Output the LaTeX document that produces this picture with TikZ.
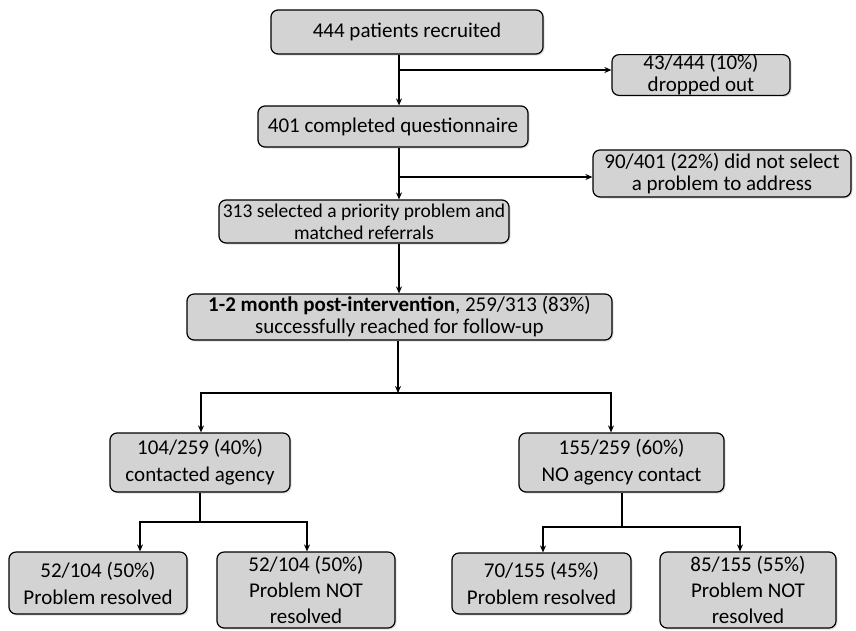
\documentclass[tikz,border=0pt]{standalone}
\usepackage{fontspec}
\setmainfont{Carlito}
\usetikzlibrary{arrows.meta,shadows}
\definecolor{boxgray}{RGB}{211,211,211}
\tikzset{
  flowbox/.style={
    draw = black,
    line width = 1.2pt,
    fill = boxgray,
    rounded corners = 7pt,
    align = center,
    inner sep = 0pt,
    font = \fontsize{21}{22}\selectfont,
    drop shadow = {opacity=0.25, shadow xshift=1.5pt, shadow yshift=-1.5pt}
  },
  loosebox/.style={flowbox, font = \fontsize{21}{27}\selectfont},
  tallbox/.style={flowbox, font = \fontsize{21}{26}\selectfont},
  flowline/.style={line width = 1.2pt},
  flowarrow/.style={line width = 1.2pt, -{Stealth[length=7pt,width=6pt]}}
}
\begin{document}
\begin{tikzpicture}[x=1pt,y=-1pt]
            \useasboundingbox (0,0) rectangle (856,630);
            % boxes
            \node[flowbox, minimum width=272pt, minimum height=44pt] (recruited) at (407,32) {444 patients recruited};
            \node[flowbox, minimum width=178pt, minimum height=40pt] (dropped) at (701,75) {43/444 (10\%)\\dropped out};
            \node[flowbox, minimum width=270pt, minimum height=41pt] (completed) at (393,126.5) {401 completed questionnaire};
            \node[flowbox, minimum width=258pt, minimum height=47pt] (noselect) at (722,173.5) {90/401 (22\%) did not select\\a problem to address};
            \node[flowbox, font=\fontsize{19.5}{22}\selectfont, minimum width=290pt, minimum height=43pt] (selected) at (364,221.5) {313 selected a priority problem and\\matched referrals};
            \node[flowbox, minimum width=425pt, minimum height=46pt] (followup) at (399.5,317) {\textbf{1-2 month post-intervention}, 259/313 (83\%)\\successfully reached for follow-up};
            \node[loosebox, minimum width=180pt, minimum height=59pt] (contacted) at (200,462.5) {104/259 (40\%)\\contacted agency};
            \node[loosebox, minimum width=205pt, minimum height=59pt] (nocontact) at (621.5,462.5) {155/259 (60\%)\\NO agency contact};
            \node[loosebox, minimum width=178pt, minimum height=62pt] (resA) at (98,583) {52/104 (50\%)\\Problem resolved};
            \node[tallbox, minimum width=178pt, minimum height=76pt] (unresA) at (306,590) {52/104 (50\%)\\Problem NOT\\resolved};
            \node[loosebox, minimum width=179pt, minimum height=61pt] (resB) at (541.5,583.5) {70/155 (45\%)\\Problem resolved};
            \node[tallbox, minimum width=176pt, minimum height=76pt] (unresB) at (748,590) {85/155 (55\%)\\Problem NOT\\resolved};
            % junctions
            \coordinate (split1) at (399,70);
            \coordinate (split2) at (399,177);
            \coordinate (split3) at (398,393);
            \coordinate (toA) at (201,393);
            \coordinate (toB) at (611,393);
            \coordinate (splitA) at (200,522);
            \coordinate (aL) at (140,522);
            \coordinate (aR) at (307,522);
            \coordinate (splitB) at (622,527);
            \coordinate (bL) at (543,527);
            \coordinate (bR) at (740,527);
            % connectors
            \draw[flowarrow] (recruited.south -| split1) -- (completed.north -| split1);
            \draw[flowarrow] (split1) -- (dropped.west |- split1);
            \draw[flowarrow] (completed.south -| split2) -- (selected.north -| split2);
            \draw[flowarrow] (split2) -- (noselect.west |- split2);
            \draw[flowarrow] (selected.south -| split2) -- (followup.north -| split2);
            \draw[flowarrow] (followup.south -| split3) -- (split3);
            \draw[flowarrow] (split3) -| (contacted.north -| toA);
            \draw[flowarrow] (split3) -| (nocontact.north -| toB);
            \draw[flowline] (contacted.south -| splitA) -- (splitA);
            \draw[flowarrow] (splitA) -| (resA.north -| aL);
            \draw[flowarrow] (splitA) -| (unresA.north -| aR);
            \draw[flowline] (nocontact.south -| splitB) -- (splitB);
            \draw[flowarrow] (splitB) -| (resB.north -| bL);
            \draw[flowarrow] (splitB) -| (unresB.north -| bR);
\end{tikzpicture}
\end{document}
